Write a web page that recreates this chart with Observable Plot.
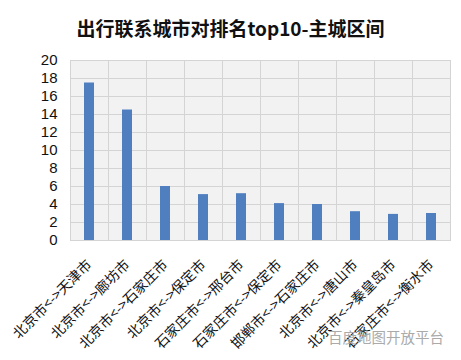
<!DOCTYPE html>
<html><head><meta charset="utf-8">
<script src="https://cdn.jsdelivr.net/npm/d3@7"></script>
<script src="https://cdn.jsdelivr.net/npm/@observablehq/plot@0.6"></script>
<style>
body{margin:0;background:#fff;font-family:"Noto Sans CJK SC",sans-serif;position:relative;}
#title{height:44px;line-height:56px;text-align:center;font-size:19px;font-weight:bold;color:#111;width:461px;}
#wm{position:absolute;left:328px;top:328px;font-size:14.5px;line-height:18px;color:#aaa;}
</style></head><body>
<div id="title">出行联系城市对排名top10-主城区间</div>
<div id="chart"></div><div id="wm">百度地图开放平台</div>
<script>
const pairs = ["北京市<->天津市","北京市<->廊坊市","北京市<->石家庄市","北京市<->保定市","石家庄市<->邢台市","石家庄市<->保定市","邯郸市<->石家庄市","北京市<->唐山市","北京市<->秦皇岛市","石家庄市<->衡水市"];
const values = [17.5, 14.5, 6.0, 5.1, 5.2, 4.1, 4.0, 3.2, 2.9, 3.0];
const yTicks = [0,2,4,6,8,10,12,14,16,18,20];
const data = pairs.map((p,i)=>({pair:p, value:values[i]}));
const chart = Plot.plot({
  width: 461, height: 316,
  marginTop: 16, marginBottom: 120, marginLeft: 70, marginRight: 11,
  style: {fontFamily: '"Noto Sans CJK SC", sans-serif', color: "#111"},
  x: {domain: pairs, paddingInner: 0.74, paddingOuter: 0.37, label: null},
  y: {domain: [0,20], label: null},
  marks: [
    Plot.frame({fill: "#f2f2f2", stroke: "none"}),
    Plot.gridY(yTicks, {stroke: "#d4d4d4", strokeOpacity: 1}),
    Plot.gridX(pairs, {stroke: "#d4d4d4", strokeOpacity: 1, dx: -19}),
    Plot.frame({stroke: "#d4d4d4"}),
    Plot.barY(data, {x: "pair", y: "value", fill: "#4f7fbf"}),
    Plot.axisY(yTicks, {tickSize: 0, tickPadding: 13, fontSize: 15, fontFamily: '"Liberation Sans Narrow", "Liberation Sans", sans-serif', fill: "#111"}),
    Plot.axisX({tickSize: 0, tickRotate: -45, textAnchor: "end", fontSize: 14, tickPadding: 22, fill: "#111"})
  ]
});
document.getElementById("chart").appendChild(chart);
</script>
</body></html>
